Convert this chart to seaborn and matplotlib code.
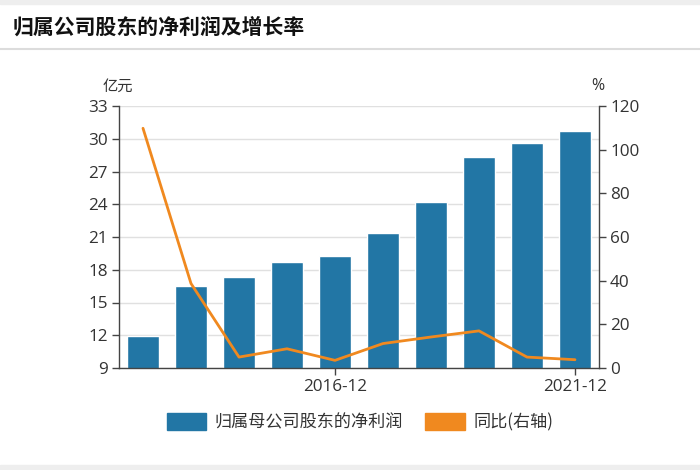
import matplotlib
matplotlib.use("Agg")
import matplotlib.pyplot as plt
from matplotlib.patches import Patch, Rectangle
from matplotlib.lines import Line2D
import seaborn as sns
import pandas as pd

periods = ["2012-12", "2013-12", "2014-12", "2015-12", "2016-12",
           "2017-12", "2018-12", "2019-12", "2020-12", "2021-12"]
net_profit = [11.9, 16.5, 17.3, 18.7, 19.3, 21.4, 24.2, 28.3, 29.6, 30.7]
yoy = [109.8, 38.7, 5.0, 8.8, 3.5, 11.2, 14.2, 17.0, 5.0, 3.8]
shown_ticks = ["2016-12", "2021-12"]
left_ticks = [9, 12, 15, 18, 21, 24, 27, 30, 33]
right_ticks = [0, 20, 40, 60, 80, 100, 120]

title = "归属公司股东的净利润及增长率"
bar_label = "归属母公司股东的净利润"
line_label = "同比(右轴)"

sns.set_theme(style="white")
plt.rcParams['font.family'] = ['Noto Sans CJK SC', 'DejaVu Sans']
NUMFONT = ['Open Sans', 'Noto Sans CJK SC']

BLUE = "#2276a5"
ORANGE = "#f0891f"
TXT = "#333333"
TICKSIZE = 12.3

df = pd.DataFrame({"period": periods, "profit": net_profit, "yoy": yoy,
                   "idx": list(range(len(periods)))})

fig = plt.figure(figsize=(7, 4.7), dpi=100)
ax = fig.add_axes([119/700, 1-368/470, 480/700, 262/470])

sns.barplot(data=df, x="period", y="profit", color=BLUE, width=0.667,
            saturation=1, ax=ax, zorder=2)
ax.set_ylim(9, 33)
ax.set_xlim(-0.5, len(periods) - 0.5)
ax.set_yticks(left_ticks)
ax.set_yticklabels([str(t) for t in left_ticks], fontsize=TICKSIZE, color=TXT,
                   family=NUMFONT)
ax.grid(axis="y", color="#e0e0e0", linewidth=1, zorder=0)
ax.set_axisbelow(True)
tick_pos = [periods.index(p) for p in shown_ticks]
ax.set_xticks(tick_pos)
ax.set_xticklabels(shown_ticks, fontsize=TICKSIZE, color=TXT, family=NUMFONT)
ax.set_xlabel("")
ax.set_ylabel("")
for s in ["top", "right"]:
    ax.spines[s].set_visible(False)
for s in ["left", "bottom"]:
    ax.spines[s].set_color("#444444")
    ax.spines[s].set_linewidth(1)
ax.tick_params(axis="both", which="both", length=5, width=1, color="#444444",
               direction="out", pad=3, left=True, bottom=True)

ax2 = ax.twinx()
sns.lineplot(data=df, x="idx", y="yoy", color=ORANGE, linewidth=2, ax=ax2)
ax2.set_ylim(0, 120)
ax2.set_xlim(-0.5, len(periods) - 0.5)
ax2.set_yticks(right_ticks)
ax2.set_yticklabels([str(t) for t in right_ticks], fontsize=TICKSIZE, color=TXT,
                    family=NUMFONT)
ax2.set_ylabel("")
ax2.set_xlabel("")
ax2.grid(False)
for s in ["top", "left", "bottom"]:
    ax2.spines[s].set_visible(False)
ax2.spines["right"].set_color("#444444")
ax2.spines["right"].set_linewidth(1)
ax2.tick_params(axis="y", length=5, width=1, color="#444444", direction="out",
                pad=3, right=True)

fig.text(103/700, 1-86/470, "亿元", fontsize=11, color=TXT, va="center", ha="left")
fig.text(598/700, 1-86/470, "%", fontsize=11.5, color=TXT, va="center", ha="center",
         family=NUMFONT)

# header
fig.patches.append(Rectangle((0, 1-4/470), 1, 4/470, transform=fig.transFigure,
                             color="#eeeeee", zorder=0))
fig.patches.append(Rectangle((0, 0), 1, 5/470, transform=fig.transFigure,
                             color="#eeeeee", zorder=0))
fig.lines.append(Line2D([0, 1], [1-49/470, 1-49/470], transform=fig.transFigure,
                        color="#dcdcdc", linewidth=1.5))
fig.text(13/700, 1-27/470, title, fontsize=15, fontweight="bold",
         color="#111111", va="center", ha="left")

handles = [Patch(facecolor=BLUE, edgecolor=BLUE, label=bar_label),
           Patch(facecolor=ORANGE, edgecolor=ORANGE, label=line_label)]
leg = fig.legend(handles=handles, loc="center", bbox_to_anchor=(360/700, 1-422/470),
                 ncol=2, frameon=False, fontsize=12.3, handlelength=2.3,
                 handleheight=1.2, handletextpad=0.5, columnspacing=1.3)
for t in leg.get_texts():
    t.set_color(TXT)

fig.savefig("out.png", dpi=100)
